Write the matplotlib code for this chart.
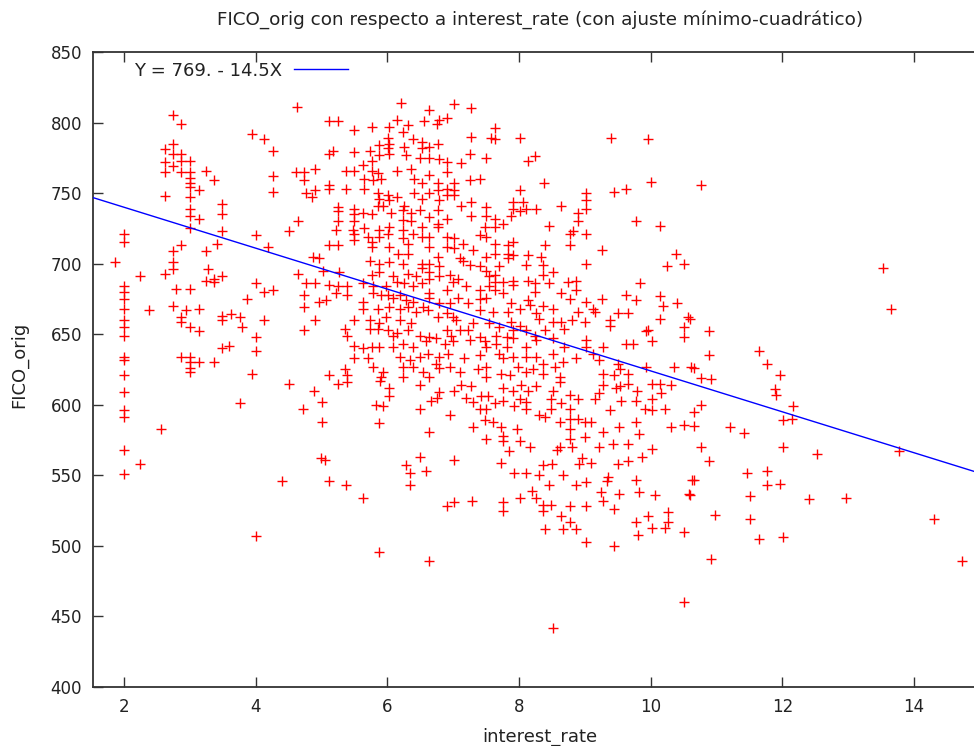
import matplotlib
matplotlib.use("Agg")
import matplotlib.pyplot as plt
import numpy as np

# ---- data ----
interest_rate = [
    # left block
    2.74, 2.87, 3.95, 4.12, 4.26, 2.74, 2.62, 2.74, 2.87, 2.87, 3.0, 2.62, 2.74, 2.63, 2.87, 3.0, 3.25, 3.0, 3.37, 4.26,
    3.0, 3.0, 3.14, 4.26, 2.62, 3.0, 3.49, 3.0, 3.49, 3.0, 3.14, 2.0, 2.0, 3.0, 3.49, 4.0, 4.5, 2.87, 4.19, 3.41,
    3.25, 2.74, 2.74, 1.87, 2.74, 2.62, 2.24, 3.27, 3.25, 3.37, 3.49, 3.37, 2.0, 2.0, 2.0, 2.0, 2.0, 2.0, 2.0, 2.79,
    3.0, 4.0, 4.12, 4.26, 3.87, 2.74, 2.38, 2.94, 3.14, 2.87, 2.87, 3.49, 3.49, 3.63, 3.76, 4.12, 3.79, 3.0, 3.14, 4.0,
    3.49, 3.6, 4.0, 2.0, 2.0, 2.87, 3.0, 3.0, 3.14, 3.0, 3.0, 3.37, 3.95, 2.0, 4.5,
    2.0, 2.0, 2.0, 2.57, 2.0, 2.24, 2.0, 3.76, 4.4, 4.0,
    # central-left block
    4.63, 6.21, 6.64, 7.01, 7.27, 5.12, 5.25, 5.50, 5.76, 6.02, 6.15, 6.31, 6.24, 6.55, 6.75, 6.78, 6.90, 7.27, 7.58,
    6.01, 6.03, 5.88, 6.01, 6.02, 5.74, 6.26, 6.39, 6.52, 6.52, 6.64, 6.77, 5.17, 5.12, 5.50, 5.77, 5.88, 6.29, 6.50,
    6.63, 6.78, 6.90, 7.26, 7.12, 7.50,
    4.62, 4.74, 4.90, 5.37, 5.50, 5.63, 5.64, 5.76, 5.78, 5.91, 5.86, 6.14, 6.36, 6.40, 6.52, 6.64, 6.90, 6.77, 6.91,
    7.02, 7.25, 7.40, 4.74, 5.12, 5.12, 5.37, 5.64, 4.77, 4.90, 4.86,
    5.86, 5.88, 6.01, 6.14, 5.86, 5.93, 6.03, 6.26, 6.24, 6.41, 6.52, 6.64, 6.77, 6.78, 6.90, 7.02, 7.02, 7.12, 7.27,
    7.27, 7.50, 7.50, 5.25, 5.25, 5.50, 5.50, 5.63, 5.76, 6.06, 6.24, 6.36, 6.36, 6.49, 6.64, 6.77, 6.77, 6.90, 4.64,
    5.25, 5.50,
    5.22, 5.48, 5.50, 5.65, 5.71, 5.76, 5.88, 5.88, 6.03, 6.01, 6.03, 6.24, 6.24, 6.31, 6.39, 6.52, 6.52, 6.64, 6.64,
    6.77, 6.90, 6.90, 7.02, 7.02, 7.15, 7.40, 7.48, 7.50, 5.12, 5.25, 5.50, 5.77, 6.16, 6.31, 6.77, 7.10, 7.15, 7.30,
    7.50, 4.87, 4.96,
    5.73, 5.88, 6.03, 6.24, 6.52, 6.64, 6.52, 6.64, 6.79, 6.95, 7.00, 7.07, 7.25, 7.40, 7.50, 7.55, 4.64, 5.02, 5.27,
    5.76, 5.88, 6.08, 6.31, 6.44, 6.52, 6.64, 6.79, 4.77, 4.90, 5.12, 5.25, 5.38, 5.63, 5.78, 5.98, 6.14, 6.26, 6.39,
    6.64, 6.90, 7.20, 7.40, 7.55,
    4.74, 5.07, 5.22, 5.38, 5.63, 5.63, 5.78, 5.91, 6.01, 6.08, 6.19, 6.29, 6.39, 6.54, 6.64, 6.79, 6.95, 7.07, 7.22,
    7.40, 7.50, 4.74, 4.96, 5.86, 6.03, 6.19, 6.31, 6.44, 6.62, 6.77, 6.90, 7.00, 7.05, 7.30, 7.40, 7.55, 4.90, 5.50,
    5.73, 5.88, 5.98, 6.19, 6.36,
    4.74, 5.35, 5.38, 5.73, 5.86, 6.01, 6.08, 6.14, 6.31, 6.49, 6.64, 6.74, 6.90, 6.97, 7.10, 7.22, 7.40, 7.48, 5.50,
    5.63, 5.76, 5.88, 6.08, 6.24, 6.39, 6.59, 6.87, 7.00, 7.25, 7.50, 5.50, 5.71, 6.19, 6.34, 6.49, 6.62, 6.79, 6.92,
    7.17, 7.40, 5.35, 5.78, 5.93, 6.24, 6.39, 6.54, 6.74, 6.79, 6.95, 7.10, 7.38, 7.50, 5.12, 5.38, 5.91, 6.24, 6.64,
    7.50,
    # central-right block
    7.64, 7.64, 8.02, 8.14, 8.25, 9.39, 9.96, 8.38, 8.02, 7.91, 8.06, 7.91, 8.11, 8.26, 7.88, 8.01, 8.64, 9.01, 9.01,
    9.01, 8.89, 8.89, 9.45, 9.63, 10.01, 7.64, 7.76, 7.64, 8.45, 8.82, 8.77, 9.01, 9.77, 10.14, 7.64, 7.64, 7.83, 7.91,
    7.83, 7.91, 7.83, 8.39, 8.77, 9.26, 8.14, 8.34, 7.70, 8.11, 8.36, 8.52, 8.36, 9.01, 10.39, 10.25, 10.50, 7.64, 7.64,
    7.76, 7.91, 7.91, 8.14, 8.24, 8.46, 8.74, 8.87, 8.87, 7.64, 7.76, 8.24, 8.14, 8.64, 8.77, 9.01, 9.26, 9.84, 9.63,
    9.78, 10.14, 10.19, 10.40, 7.88, 8.01, 8.16, 8.36, 8.52, 7.60, 7.83, 8.26, 8.31, 8.89, 9.12, 9.15, 9.50, 9.65,
    9.38, 9.38, 9.00, 8.81, 8.64, 8.68, 8.52, 7.88, 8.01, 7.91, 7.70, 10.14, 10.57, 10.51, 10.50, 9.93, 9.96, 7.65,
    7.81, 7.91, 7.65, 7.81, 8.11, 8.24, 8.39, 8.11, 8.26, 8.52, 8.69, 9.01, 9.01, 9.28, 9.63, 9.73, 10.02, 7.70, 7.76,
    7.91, 8.11, 8.26, 8.52, 8.67, 8.87, 8.36, 9.12, 9.22, 9.50, 9.93, 10.36, 10.61, 7.73, 7.86, 7.98, 8.11, 8.21, 8.36,
    8.54, 8.62, 9.28, 9.45, 9.53, 9.65,
    # lower-middle block
    4.88, 5.25, 5.38, 5.01, 4.72, 5.01, 5.83, 5.94, 6.02, 6.02, 5.89, 5.87, 6.50, 6.49, 6.67, 6.75, 6.79, 7.01, 6.95,
    6.64, 7.12, 7.27, 7.20, 7.30, 7.43, 7.53, 7.40, 7.50, 7.49, 7.30, 7.50, 4.99, 5.06, 5.12, 5.37, 5.63, 6.50, 6.29,
    6.35, 6.59, 6.35, 7.01, 6.91, 7.01, 7.29, 5.87, 6.64,
    # lower-right block
    7.75, 7.91, 8.03, 8.14, 8.26, 8.52, 8.62, 8.78, 8.89, 9.27, 9.22, 9.15, 9.48, 9.53, 9.65, 9.79, 10.02, 10.14, 10.31,
    10.16, 9.55, 9.78, 10.02, 9.38, 9.91, 10.02, 10.21, 7.75, 7.63, 7.93, 8.01, 8.11, 8.11, 8.49, 8.49, 8.64, 8.77,
    8.31, 8.39, 8.62, 8.77, 8.89, 9.00, 9.10, 8.77, 8.77, 9.00, 9.27, 9.52, 9.78, 9.82, 10.31, 10.51, 7.60, 7.73, 7.76,
    7.76, 7.97, 8.01, 8.16, 7.85, 8.57, 8.62, 8.81, 9.22, 9.42, 9.65, 10.02, 9.87, 8.95, 8.91, 9.10, 9.50, 9.65, 7.72,
    7.92, 8.11, 8.31, 8.36, 8.50, 8.67, 8.45, 8.86, 9.01, 9.35, 9.33, 9.78, 10.63, 8.19, 8.26, 8.02, 7.75, 7.75, 8.36,
    8.49, 8.36, 8.77, 9.01, 9.25, 9.27, 9.52, 9.82, 10.06, 10.58, 9.45, 8.64, 8.77, 8.67, 8.87, 8.40, 9.01, 9.44, 9.77,
    9.96, 10.02, 9.80, 10.21, 10.26, 10.26, 10.51, 10.51, 8.52,
    # right block
    10.76, 13.53, 13.65, 10.60, 10.89, 10.89, 10.65, 10.76, 10.91, 11.65, 11.77, 11.96, 11.89,
    11.90, 12.16, 12.01, 12.14, 10.76, 10.65, 10.65, 11.21, 11.41, 10.76, 10.89, 12.01, 10.65, 11.46, 11.77, 11.77,
    11.96, 10.60, 11.51, 10.97, 11.51, 11.65, 12.01, 10.91,
    12.52, 12.41, 12.97, 13.77, 14.30, 14.73,
]

fico_orig = [
    # left block
    805, 799, 792, 788, 780, 785, 781, 778, 778, 773, 773, 772, 769, 765, 765, 765, 766, 761, 759, 762,
    757, 754, 752, 751, 748, 747, 742, 739, 735, 734, 732, 721, 715, 725, 723, 720, 723, 713, 712, 714,
    709, 709, 701, 701, 696, 693, 691, 696, 688, 689, 691, 687, 684, 680, 675, 668, 660, 655, 649, 682,
    682, 686, 680, 681, 675, 670, 667, 667, 668, 662, 659, 663, 660, 664, 662, 660, 655, 655, 652, 648,
    640, 642, 638, 634, 632, 634, 634, 630, 630, 626, 623, 630, 622, 621, 615,
    609, 596, 591, 583, 568, 558, 551, 601, 546, 507,
    # central-left block
    811, 814, 809, 813, 810, 801, 801, 795, 797, 797, 802, 798, 793, 801, 799, 802, 803, 790, 789,
    789, 785, 784, 782, 778, 780, 783, 788, 786, 782, 783, 785, 780, 778, 779, 773, 777, 777, 775,
    775, 774, 772, 778, 771, 775,
    765, 765, 767, 766, 766, 770, 760, 766, 759, 760, 764, 766, 767, 760, 757, 763, 765, 757, 753,
    757, 759, 760, 759, 756, 753, 753, 753, 750, 752, 747,
    750, 746, 749, 747, 741, 741, 745, 741, 738, 750, 746, 750, 752, 745, 749, 749, 752, 741, 744,
    734, 740, 734, 740, 737, 739, 735, 736, 735, 736, 731, 736, 730, 738, 733, 738, 728, 732, 730,
    730, 730,
    724, 724, 721, 725, 719, 715, 724, 719, 726, 721, 712, 724, 718, 714, 721, 726, 719, 719, 712,
    726, 719, 712, 718, 711, 714, 720, 726, 719, 713, 713, 717, 712, 707, 707, 705, 704, 702, 710,
    705, 705, 704,
    702, 700, 701, 700, 700, 700, 697, 694, 698, 692, 687, 689, 699, 698, 695, 691, 693, 695, 694,
    692, 694, 691, 693, 691, 686, 689, 691, 686, 686, 685, 684, 684, 686, 684, 684, 687, 686, 684,
    679, 681, 684, 681, 684,
    678, 674, 679, 678, 673, 668, 679, 678, 678, 676, 678, 674, 673, 669, 676, 672, 672, 676, 672,
    675, 676, 669, 673, 668, 669, 668, 669, 666, 667, 662, 665, 662, 660, 658, 667, 658, 660, 660,
    660, 658, 662, 660, 658,
    653, 654, 649, 654, 654, 653, 649, 651, 653, 649, 648, 647, 653, 649, 653, 653, 648, 645, 642,
    640, 641, 641, 641, 643, 641, 645, 643, 645, 646, 641, 633, 633, 634, 632, 634, 636, 634, 636,
    633, 635, 625, 627, 623, 627, 627, 623, 629, 626, 627, 623, 625, 627, 621, 621, 620, 620, 620,
    620,
    # central-right block
    796, 788, 789, 773, 776, 789, 788, 757, 752, 744, 744, 739, 739, 739, 734, 737, 741, 750, 745,
    739, 736, 730, 751, 753, 758, 732, 728, 726, 727, 723, 721, 721, 730, 727, 714, 707, 713, 715,
    707, 706, 704, 713, 713, 710, 706, 705, 698, 699, 699, 694, 692, 700, 707, 698, 700, 692, 687,
    687, 688, 685, 688, 686, 686, 687, 688, 681, 681, 679, 680, 674, 679, 675, 673, 675, 686, 678,
    674, 677, 670, 672, 672, 668, 671, 670, 668, 666, 666, 665, 661, 666, 668, 666, 665, 665,
    660, 656, 659, 660, 659, 654, 659, 659, 656, 653, 655, 661, 662, 655, 648, 652, 653, 649,
    648, 647, 643, 641, 653, 649, 653, 641, 646, 647, 641, 646, 641, 641, 643, 643, 645, 636, 633,
    634, 634, 634, 636, 630, 633, 629, 636, 632, 629, 627, 627, 627, 622, 621, 627, 623, 625, 622,
    627, 620, 622, 621, 625, 622,
    # lower-middle block
    610, 615, 616, 602, 597, 588, 600, 599, 612, 606, 617, 587, 614, 597, 603, 605, 609, 610, 593,
    581, 614, 613, 605, 602, 606, 606, 597, 597, 589, 584, 576, 562, 561, 546, 543, 534, 563, 557,
    552, 553, 543, 561, 528, 531, 532, 496, 489,
    # lower-right block
    612, 610, 614, 610, 613, 610, 616, 607, 604, 614, 608, 604, 612, 613, 615, 610, 615, 615, 614,
    608, 603, 603, 604, 596, 597, 596, 597, 603, 601, 599, 604, 602, 597, 604, 597, 601, 597,
    593, 591, 588, 590, 590, 588, 588, 583, 576, 577, 581, 584, 588, 579, 584, 586, 588, 584, 578,
    574, 583, 574, 570, 567, 568, 570, 570, 570, 572, 572, 569, 563, 562, 558, 559, 558, 560, 559,
    552, 552, 550, 557, 558, 550, 543, 543, 545, 549, 546, 547, 547, 539, 534, 534, 531, 525, 529,
    529, 525, 528, 528, 538, 532, 537, 538, 536, 537, 526, 521, 517, 512, 512, 512, 503, 500, 517,
    521, 513, 508, 513, 524, 517, 510, 460, 442,
    # right block
    756, 697, 668, 661, 652, 635, 626, 619, 618, 638, 629, 621, 611,
    607, 599, 589, 590, 600, 595, 585, 584, 580, 570, 560, 570, 547, 552, 553, 543,
    544, 536, 535, 522, 519, 505, 506, 491,
    565, 533, 534, 567, 519, 489,
]

fit_intercept = 769.0
fit_slope = -14.5
fit_label = "Y = 769. - 14.5X"

x_ticks = [2, 4, 6, 8, 10, 12, 14]
y_ticks = [400, 450, 500, 550, 600, 650, 700, 750, 800, 850]

title = "FICO_orig con respecto a interest_rate (con ajuste mínimo-cuadrático)"
x_label = "interest_rate"
y_label = "FICO_orig"

# ---- figure ----
W, H = 974, 746
fig = plt.figure(figsize=(W / 100, H / 100), dpi=100)
left_px, right_px, top_px, bottom_px = 93, 974, 52, 687
ax = fig.add_axes([left_px / W, (H - bottom_px) / H,
                   (right_px - left_px) / W, (bottom_px - top_px) / H])

xlim = (1.53, 14.91)
ax.set_xlim(*xlim)
ax.set_ylim(400, 850)

ax.plot(interest_rate, fico_orig, linestyle="none", marker="+", color="#ff0000",
        markersize=7, markeredgewidth=1.0, zorder=2)

xs = np.array(xlim)
ax.plot(xs, fit_intercept + fit_slope * xs, color="#0000ff", linewidth=1.0,
        label=fit_label, zorder=3)

leg = ax.legend(loc="upper left", bbox_to_anchor=(0.034, 1.002), frameon=False,
                markerfirst=False, handlelength=3.0, handletextpad=0.65,
                fontsize=13, borderaxespad=0.2)
for t in leg.get_texts():
    t.set_color("#222222")

ax.set_xticks(x_ticks)
ax.set_yticks(y_ticks)
ax.tick_params(axis="both", which="both", direction="in", length=7, width=1.0,
               labelsize=12, color="#333333", labelcolor="#222222",
               top=True, right=False)
ax.tick_params(axis="y", pad=8)
ax.tick_params(axis="x", pad=8)
for side in ("left", "bottom", "top"):
    ax.spines[side].set_linewidth(1.3)
    ax.spines[side].set_color("#333333")
ax.spines["right"].set_visible(False)

fig.text(540 / W, 1 - 20 / H, title, ha="center", va="center", fontsize=13.2, color="#222222")
fig.text(540 / W, 1 - 737 / H, x_label, ha="center", va="center", fontsize=13, color="#222222")
fig.text(19 / W, 1 - 365 / H, y_label, ha="center", va="center", rotation=90,
         fontsize=13, color="#222222")

fig.savefig("out.png", dpi=100)
